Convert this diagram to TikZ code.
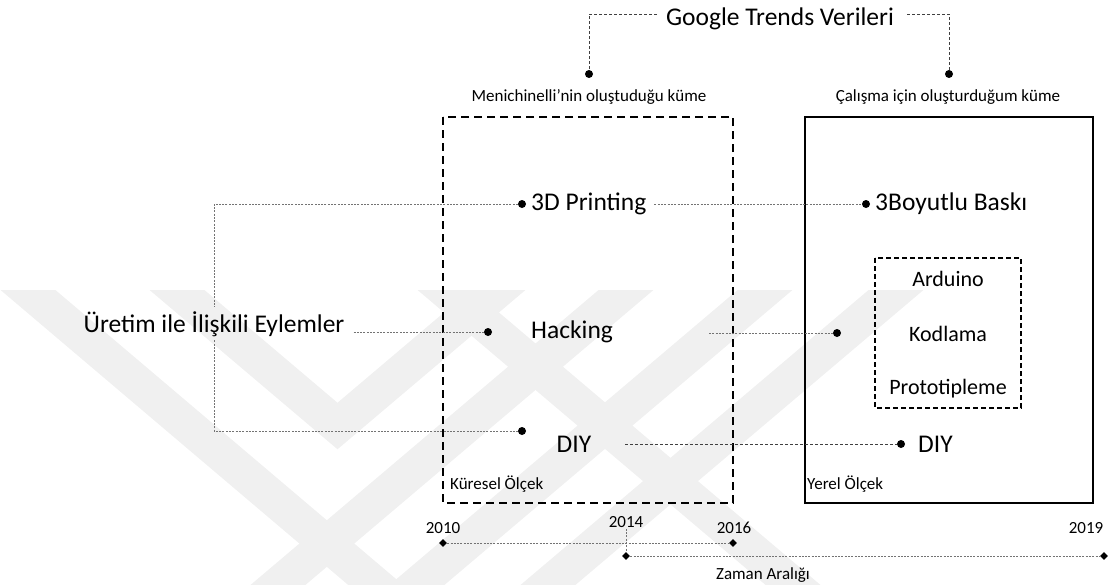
\documentclass[tikz,border=0pt]{standalone}
\usepackage{fontspec}
\setmainfont{Carlito}
\usetikzlibrary{positioning, shapes.geometric}

\tikzset{
  dot/.style={circle, fill=black, inner sep=0pt, minimum size=8pt},
  tick/.style={diamond, fill=black, inner sep=0pt, minimum size=8pt},
  conn/.style={gray!90!black, line width=0.9pt, dash pattern=on 2pt off 1.3pt},
  conndark/.style={black!75, line width=0.8pt, dash pattern=on 3pt off 2pt},
  title/.style={font=\fontsize{25.5}{30}\selectfont, inner sep=2pt},
  big/.style={font=\fontsize{25.5}{30}\selectfont, inner sep=2pt},
  mid/.style={font=\fontsize{22}{26}\selectfont, inner sep=2pt},
  lbl/.style={font=\fontsize{17}{20}\selectfont, inner sep=1pt},
  kbox/.style={line width=2pt, dash pattern=on 8pt off 5pt},
  ybox/.style={line width=1.6pt},
  ibox/.style={line width=1.2pt, dash pattern=on 5pt off 3pt},
  wmark/.style={black!6, line width=35.5pt, line join=miter}
}

\begin{document}
\begin{tikzpicture}[x=1pt, y=-1pt]
\useasboundingbox (0,0) rectangle (1110,584);

% faint background mark
\begin{scope}
  \clip (0,290) rectangle (1110,584);
  \draw[wmark] (4.4,270) -- (404,609);
  \draw[wmark] (421.4,270) -- (821.4,609);
  \draw[wmark] (649.6,270) -- (249.6,609);
  \draw[wmark] (788.6,270) -- (388.6,609);
  \draw[wmark] (919.6,270) -- (519.6,609);
  \draw[wmark] (153.4,270) -- (337.5,426) -- (521.6,270);
\end{scope}

% Google Trends
\node[title, anchor=base] (gtv) at (780,25) {Google Trends Verileri};
\node[dot] (dmen) at (589,74) {};
\node[dot] (dcal) at (949,74) {};
\node[lbl] (men) at (589,97) {Menichinelli’nin oluştuduğu küme};
\node[lbl] (cal) at (948,97) {Çalışma için oluşturduğum küme};
\coordinate (gl) at (657,14);
\coordinate (gr) at (907,14);
\draw[conndark] (gl) -| (dmen);
\draw[conndark] (gr) -| (dcal);

% Frames
\draw[kbox] (443,117) rectangle (733,503);
\draw[ybox] (805,117) rectangle (1093,503);
\draw[ibox] (875,258) rectangle (1021,408);
\node[lbl, anchor=west] (kur) at (449,484) {Küresel Ölçek};
\node[lbl, anchor=west] (yer) at (806,484) {Yerel Ölçek};

% 3D Printing
\node[dot] (p3d) at (522,204) {};
\node[big, anchor=west] (t3d) at (529,204) {3D Printing};
\node[dot] (b3d) at (866,204) {};
\node[big, anchor=west] (tb3d) at (873,204) {3Boyutlu Baskı};
\draw[conn] ([xshift=6pt]t3d.east) -- (b3d);

% Hacking
\node[big, anchor=base, inner sep=4pt] (uret) at (214,332) {Üretim ile İlişkili Eylemler};
\node[dot] (hdot) at (488,332) {};
\node[big, anchor=west] (thack) at (529,332) {Hacking};
\coordinate (hout) at (709,333);
\node[dot] (hin) at (837,333) {};
\draw[conn] ([xshift=5pt]uret.east |- hdot) -- (hdot);
\draw[conn] (hout) -- (hin);

\node[mid] (ard) at (948,279) {Arduino};
\node[mid] (kod) at (948,334) {Kodlama};
\node[mid] (pro) at (948,389) {Prototipleme};

% DIY
\node[dot] (diyl) at (522,431) {};
\node[big] (tdiyl) at (574,444) {DIY};
\node[dot] (diyr) at (901,444) {};
\node[big, anchor=west] (tdiyr) at (916,444) {DIY};
\draw[conndark] ([xshift=32pt]tdiyl.east) -- (diyr);

% bracket
\draw[conn] (p3d) -| (uret.north);
\draw[conn] (uret.south) |- (diyl);

% Time line
\node[lbl] (y2010) at (443,528) {2010};
\node[lbl] (y2014) at (626,522) {2014};
\node[lbl] (y2016) at (734,528) {2016};
\node[lbl] (y2019) at (1086,528) {2019};
\node[tick] (k2010) at (443,543) {};
\node[tick] (k2016) at (733,543) {};
\node[tick] (k2014) at (626,556) {};
\node[tick] (k2019) at (1104,556) {};
\draw[conn] (k2010) -- (k2016);
\draw[conn] (k2014) -- (k2019);
\draw[conn] (y2014) -- (k2014);
\node[lbl] (zaman) at (763,575) {Zaman Aralığı};
\end{tikzpicture}
\end{document}
